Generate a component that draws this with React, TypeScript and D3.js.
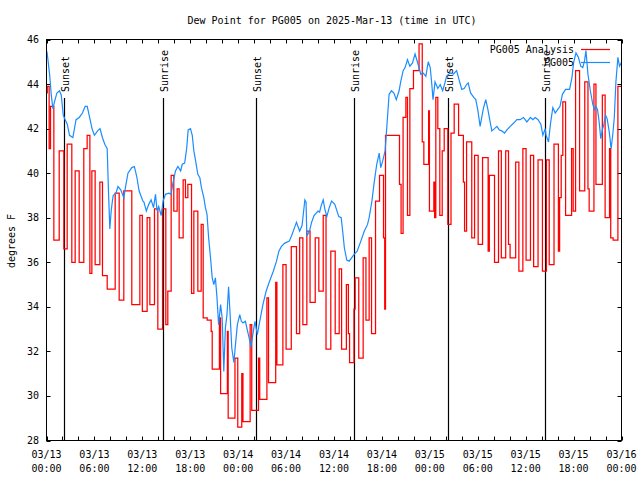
import React from "react";
import * as d3 from "d3";

const TITLE = "Dew Point for PG005 on 2025-Mar-13 (time in UTC)";
const Y_LABEL = "degrees F";
const Y_TICKS = [28, 30, 32, 34, 36, 38, 40, 42, 44, 46];
const X_TICK_HOURS = [0, 6, 12, 18, 24, 30, 36, 42, 48, 54, 60, 66, 72];
const X_TICK_DATES = ["03/13", "03/13", "03/13", "03/13", "03/14", "03/14", "03/14", "03/14", "03/15", "03/15", "03/15", "03/15", "03/16"];
const X_TICK_TIMES = ["00:00", "06:00", "12:00", "18:00", "00:00", "06:00", "12:00", "18:00", "00:00", "06:00", "12:00", "18:00", "00:00"];
const X_MINOR_STEP = 2;

const SUN_HOURS = [2.17, 14.56, 26.2, 38.48, 50.25, 62.4];
const SUN_LABELS = ["Sunset", "Sunrise", "Sunset", "Sunrise", "Sunset", "Sunrise"];

const SERIES_NAMES = ["PG005 Analysis", "PG005"];

// PG005 Analysis (red, step)
const ANALYSIS_HOURS = [
  0.0, 0.1, 0.33, 0.5, 0.92, 1.59, 2.17, 2.59, 3.17, 3.59, 4.09, 4.67, 5.09, 5.43, 5.68, 6.09, 6.68, 7.01, 7.6, 8.6,
  9.1, 9.68, 10.68, 11.69, 12.0, 12.6, 12.94, 13.52, 13.94, 14.53, 14.94, 15.19, 15.61, 15.94, 16.36, 16.61, 17.11, 17.4, 17.7, 18.16,
  18.45, 18.95, 19.37, 19.62, 20.12, 20.62, 20.75, 21.65, 21.8, 22.65, 22.75, 23.6, 23.95, 24.45, 24.6, 25.5, 25.7, 26.55, 26.7, 27.6,
  27.8, 28.7, 28.85, 29.6, 30.0, 30.65, 31.3, 31.7, 32.1, 32.6, 33.0, 33.65, 34.1, 34.65, 35.0, 35.6, 36.15, 36.65, 36.95, 37.55,
  37.8, 37.95, 38.5, 38.65, 39.1, 39.65, 40.0, 40.4, 40.7, 41.2, 41.7, 42.2, 42.35, 42.45, 44.2, 44.4, 44.65, 45.0, 45.2, 45.5,
  45.95, 46.65, 47.05, 47.25, 47.85, 47.95, 48.5, 48.6, 48.75, 49.0, 49.25, 49.55, 49.8, 50.25, 50.65, 51.05, 51.6, 52.2, 52.35, 52.6,
  53.25, 53.6, 54.05, 54.6, 55.3, 55.45, 56.1, 56.6, 56.95, 57.5, 57.85, 58.05, 58.75, 59.15, 59.65, 60.05, 60.6, 61.0, 61.55, 62.1,
  62.6, 62.95, 63.55, 64.1, 64.25, 64.45, 64.65, 65.0, 65.75, 65.95, 66.25, 66.75, 67.4, 67.8, 67.95, 68.55, 68.8, 69.6, 69.95, 70.5,
  70.65, 70.95, 71.55, 72.0,
];
const ANALYSIS_VALUES = [
  43.6, 43.9, 41.1, 43.0, 37.0, 41.0, 36.6, 41.3, 36.0, 40.1, 36.0, 41.1, 41.7, 35.5, 40.1, 35.9, 39.6, 35.4, 34.8, 39.1,
  34.3, 39.2, 34.1, 38.1, 33.8, 38.0, 34.1, 38.4, 33.0, 38.4, 33.2, 34.7, 39.9, 38.3, 39.3, 37.1, 39.7, 38.9, 39.5, 34.6,
  38.3, 34.7, 37.7, 33.5, 33.4, 32.9, 31.2, 33.5, 30.1, 32.9, 29.0, 31.7, 28.6, 31.0, 28.85, 33.2, 29.35, 31.7, 29.85, 34.4,
  30.6, 35.1, 31.4, 35.9, 32.1, 36.7, 32.8, 37.1, 33.2, 37.4, 34.2, 37.1, 34.7, 38.1, 32.1, 36.5, 32.8, 35.7, 32.1, 35.0,
  32.8, 31.5, 33.9, 35.3, 31.7, 36.2, 33.4, 37.1, 32.8, 38.75, 39.9, 37.1, 33.9, 41.7, 39.5, 37.3, 42.5, 43.4, 38.1, 43.8,
  44.6, 45.8, 41.4, 40.4, 42.8, 38.3, 39.6, 38.0, 43.4, 42.0, 38.1, 41.0, 42.0, 37.7, 41.8, 43.1, 41.7, 39.6, 37.4, 41.4,
  37.1, 40.8, 36.8, 40.7, 36.5, 39.9, 36.0, 41.0, 36.2, 41.0, 36.8, 36.2, 40.5, 35.6, 41.1, 36.1, 40.8, 35.8, 40.6, 35.6,
  40.6, 35.9, 41.3, 36.5, 38.9, 40.8, 43.2, 38.1, 41.1, 38.3, 44.6, 39.2, 44.1, 39.3, 38.3, 44.0, 39.5, 43.5, 38.0, 41.1,
  37.1, 37.0, 43.9, 43.9,
];

// PG005 (blue)
const OBS_HOURS = [
  0.0, 0.08, 0.4, 0.6, 0.8, 1.0, 1.3, 1.63, 1.85, 2.1, 2.34, 2.6, 2.88, 3.3, 3.7, 4.1, 4.5, 4.84, 5.1, 5.4,
  5.7, 6.0, 6.4, 6.7, 7.0, 7.3, 7.6, 7.75, 7.93, 8.1, 8.2, 8.35, 8.7, 8.95, 9.3, 9.68, 9.95, 10.2, 10.68, 11.0,
  11.3, 11.6, 12.06, 12.2, 12.5, 12.8, 13.1, 13.4, 13.65, 13.85, 14.05, 14.36, 14.6, 14.9, 15.3, 15.6, 15.8, 16.15, 16.45, 16.8,
  17.0, 17.3, 17.55, 17.74, 18.03, 18.25, 18.45, 18.65, 18.95, 19.2, 19.4, 19.7, 19.9, 20.1, 20.3, 20.54, 20.75, 20.95, 21.15, 21.35,
  21.55, 21.8, 22.0, 22.2, 22.4, 22.6, 22.8, 23.0, 23.2, 23.46, 23.7, 23.9, 24.2, 24.4, 24.6, 24.9, 25.38, 25.6, 25.9, 26.1,
  26.4, 26.7, 27.1, 27.5, 27.84, 28.4, 28.8, 29.1, 29.4, 29.8, 30.4, 30.7, 31.1, 31.3, 31.7, 32.0, 32.35, 32.5, 32.6, 32.9,
  33.2, 33.5, 34.0, 34.2, 34.4, 34.65, 34.85, 35.1, 35.4, 35.7, 36.1, 36.6, 36.9, 37.1, 37.3, 37.6, 37.9, 38.2, 38.5, 38.9,
  39.36, 39.8, 40.2, 40.4, 40.75, 41.0, 41.35, 41.66, 41.85, 42.1, 42.4, 42.6, 42.9, 43.2, 43.5, 43.8, 44.15, 44.35, 44.66, 44.9,
  45.2, 45.5, 45.83, 46.15, 46.6, 46.87, 47.15, 47.5, 47.8, 48.05, 48.25, 48.4, 48.65, 49.0, 49.3, 49.6, 49.85, 50.1, 50.55, 50.96,
  51.35, 51.7, 52.0, 52.3, 52.6, 52.8, 53.1, 53.5, 53.75, 54.0, 54.3, 54.5, 54.7, 55.0, 55.25, 55.5, 55.76, 56.1, 56.4, 56.7,
  57.0, 57.35, 57.65, 58.06, 58.5, 58.9, 59.3, 59.73, 60.15, 60.6, 60.9, 61.2, 61.55, 61.9, 62.15, 62.45, 62.55, 62.86, 63.1, 63.4,
  63.7, 64.0, 64.3, 64.6, 65.0, 65.5, 65.8, 66.0, 66.3, 66.6, 66.9, 67.15, 67.37, 67.55, 67.8, 68.1, 68.4, 68.6, 68.8, 69.0,
  69.2, 69.4, 69.6, 69.8, 70.0, 70.2, 70.45, 70.7, 70.9, 71.1, 71.3, 71.55, 71.75, 71.96, 72.0,
];
const OBS_VALUES = [
  45.5, 45.4, 44.4, 43.5, 42.9, 43.2, 43.6, 43.7, 43.5, 42.6, 42.4, 42.2, 41.7, 41.6, 42.4, 42.5, 42.7, 43.0, 43.0, 42.5,
  42.0, 41.7, 41.9, 42.0, 41.6, 41.3, 41.1, 39.3, 37.5, 38.3, 38.6, 39.0, 39.1, 39.4, 39.25, 38.9, 39.5, 40.0, 40.25, 40.3,
  39.85, 39.2, 38.75, 38.7, 38.3, 38.6, 38.8, 38.45, 39.05, 38.3, 38.5, 38.1, 38.75, 39.05, 39.1, 39.05, 39.5, 40.1, 40.3, 40.1,
  40.4, 40.45, 41.1, 41.94, 42.0, 41.7, 41.0, 40.6, 39.95, 39.8, 39.35, 38.9, 38.45, 38.15, 37.1, 36.2, 35.3, 35.0, 35.3, 34.4,
  33.2, 34.1, 33.5, 31.1, 33.05, 33.65, 34.9, 33.6, 32.15, 31.5, 32.45, 33.2, 33.65, 33.35, 33.28, 33.35, 32.6, 32.2, 32.9, 33.35,
  32.75, 33.35, 34.1, 34.7, 35.06, 35.6, 36.05, 36.5, 36.7, 36.85, 36.95, 37.2, 37.6, 37.8, 37.4, 37.65, 38.8, 38.7, 37.2, 37.35,
  37.8, 38.1, 38.3, 38.25, 38.55, 38.8, 38.4, 38.05, 38.45, 38.75, 38.6, 38.05, 38.0, 37.35, 36.64, 36.1, 36.05, 36.2, 36.34, 36.5,
  36.95, 37.4, 37.7, 38.0, 38.75, 39.5, 40.4, 40.9, 40.25, 40.55, 41.0, 42.0, 43.54, 43.7, 43.6, 43.3, 43.7, 44.1, 44.6, 44.74,
  45.1, 44.8, 44.95, 45.35, 44.8, 44.44, 44.5, 44.35, 45.0, 44.74, 43.98, 43.3, 44.1, 43.8, 43.98, 43.7, 44.0, 44.36, 44.5, 44.45,
  44.6, 44.14, 43.76, 43.8, 43.98, 44.05, 43.6, 43.4, 43.3, 42.85, 42.1, 42.5, 42.9, 43.3, 42.9, 42.4, 41.9, 42.0, 42.1, 41.94,
  41.9, 41.8, 41.94, 42.1, 42.25, 42.4, 42.4, 42.5, 42.3, 42.5, 42.4, 42.5, 42.4, 42.2, 41.7, 42.0, 41.7, 41.4, 42.2, 42.94,
  42.7, 42.85, 43.0, 43.54, 43.76, 43.76, 44.3, 44.95, 45.4, 45.2, 44.8, 44.74, 45.04, 45.5, 44.44, 43.7, 43.1, 42.85, 43.0, 42.85,
  42.3, 41.55, 41.94, 42.2, 42.6, 42.45, 41.9, 41.1, 41.7, 42.5, 44.1, 45.2, 44.8, 44.95, 44.9,
];

const W = 640;
const H = 480;
const LEFT = 46.5;
const RIGHT = 621.5;
const TOP = 39.5;
const BOTTOM = 440.5;
const FONT = "'DejaVu Sans Mono', 'Liberation Mono', monospace";
const RED = "#ff0000";
const BLUE = "#1a8cff";

export default function App() {
  const x = d3.scaleLinear().domain([0, 72]).range([LEFT, RIGHT]);
  const y = d3.scaleLinear().domain([28, 46]).range([BOTTOM, TOP]);

  const analysis = ANALYSIS_HOURS.map((h, i) => [h, ANALYSIS_VALUES[i]] as [number, number]);
  const obs = OBS_HOURS.map((h, i) => [h, OBS_VALUES[i]] as [number, number]);

  const stepLine = d3
    .line<[number, number]>()
    .x((d) => x(d[0]))
    .y((d) => y(d[1]))
    .curve(d3.curveStepAfter);
  const linLine = d3
    .line<[number, number]>()
    .x((d) => x(d[0]))
    .y((d) => y(d[1]));

  const minor = d3.range(0, 72 + 0.001, X_MINOR_STEP);
  const tickLen = 4;

  return (
    <svg
      width={W}
      height={H}
      viewBox={`0 0 ${W} ${H}`}
      style={{ position: "absolute", left: 0, top: 0, background: "#fff" }}
      fontFamily={FONT}
      fontSize={10}
    >
      <rect x={0} y={0} width={W} height={H} fill="#fff" />
      <defs>
        <clipPath id="plotclip">
          <rect x={LEFT} y={TOP} width={RIGHT - LEFT} height={BOTTOM - TOP} />
        </clipPath>
      </defs>

      <text x={332} y={23.5} textAnchor="middle" fill="#000">
        {TITLE}
      </text>

      {Y_TICKS.map((t) => (
        <g key={"y" + t}>
          <line x1={LEFT} x2={LEFT + tickLen} y1={Math.round(y(t)) + 0.5} y2={Math.round(y(t)) + 0.5} stroke="#000" />
          <line x1={RIGHT - tickLen} x2={RIGHT} y1={Math.round(y(t)) + 0.5} y2={Math.round(y(t)) + 0.5} stroke="#000" />
          <text x={39} y={y(t)} dy="0.35em" textAnchor="end" fill="#000">
            {t}
          </text>
        </g>
      ))}

      {minor.map((h) => (
        <g key={"xm" + h}>
          <line x1={Math.round(x(h)) + 0.5} x2={Math.round(x(h)) + 0.5} y1={BOTTOM} y2={BOTTOM - tickLen} stroke="#000" />
          <line x1={Math.round(x(h)) + 0.5} x2={Math.round(x(h)) + 0.5} y1={TOP} y2={TOP + tickLen} stroke="#000" />
        </g>
      ))}
      {X_TICK_HOURS.map((h, i) => (
        <g key={"xl" + h}>
          <text x={x(h)} y={458} textAnchor="middle" fill="#000">
            {X_TICK_DATES[i]}
          </text>
          <text x={x(h)} y={471.5} textAnchor="middle" fill="#000">
            {X_TICK_TIMES[i]}
          </text>
        </g>
      ))}

      <text transform={`translate(14.5,241) rotate(-90)`} textAnchor="middle" fill="#000">
        {Y_LABEL}
      </text>

      {SUN_HOURS.map((h, i) => (
        <g key={"sun" + i}>
          <line x1={Math.round(x(h)) + 0.5} x2={Math.round(x(h)) + 0.5} y1={98} y2={BOTTOM} stroke="#000" strokeWidth={1.2} />
          <text transform={`translate(${x(h) + 5},92) rotate(-90)`} textAnchor="start" fill="#000">
            {SUN_LABELS[i]}
          </text>
        </g>
      ))}

      <g clipPath="url(#plotclip)">
        <path d={stepLine(analysis) || ""} fill="none" stroke={RED} strokeWidth={1.25} />
        <path d={linLine(obs) || ""} fill="none" stroke={BLUE} strokeWidth={1.2} />
      </g>

      <rect x={LEFT} y={TOP} width={RIGHT - LEFT} height={BOTTOM - TOP} fill="none" stroke="#000" strokeWidth={1} />

      <text x={574} y={49} dy="0.35em" textAnchor="end" fill="#000">
        {SERIES_NAMES[0]}
      </text>
      <line x1={581} x2={610} y1={49.5} y2={49.5} stroke={RED} strokeWidth={1.2} />
      <text x={574} y={62} dy="0.35em" textAnchor="end" fill="#000">
        {SERIES_NAMES[1]}
      </text>
      <line x1={581} x2={610} y1={62.5} y2={62.5} stroke={BLUE} strokeWidth={1.2} />
    </svg>
  );
}
